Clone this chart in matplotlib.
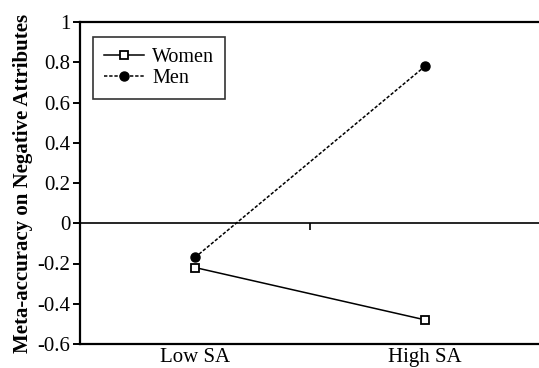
import matplotlib
matplotlib.use("Agg")
import matplotlib.pyplot as plt

# Mean meta-accuracy by self-awareness group
categories = ["Low SA", "High SA"]
women = [-0.22, -0.48]
men = [-0.17, 0.78]
y_ticks = [-0.6, -0.4, -0.2, 0, 0.2, 0.4, 0.6, 0.8, 1]
y_tick_labels = ["-0.6", "-0.4", "-0.2", "0", "0.2", "0.4", "0.6", "0.8", "1"]

plt.rcParams["font.family"] = ["Liberation Serif", "DejaVu Serif"]

fig = plt.figure(figsize=(5.39, 3.68), dpi=100)
ax = fig.add_axes([80 / 539, 24 / 368, 460 / 539, 322 / 368])

x = range(len(categories))
ax.plot(x, women, color="black", linewidth=1.1, linestyle="-",
        marker="s", markersize=6, markerfacecolor="white",
        markeredgecolor="black", markeredgewidth=1.3, label="Women")
ax.plot(x, men, color="black", linewidth=1.1, linestyle=(0, (2.2, 1.2)),
        marker="o", markersize=6.5, markerfacecolor="black",
        markeredgecolor="black", label="Men")

ax.set_xlim(-0.5, 1.5)
ax.set_ylim(-0.6, 1)
ax.set_yticks(y_ticks)
ax.set_yticklabels(y_tick_labels)
ax.set_xticks(list(x))
ax.set_xticklabels(categories)
ax.tick_params(axis="x", length=0, labelsize=15, pad=3)
ax.tick_params(axis="y", direction="out", length=5, width=1.4, labelsize=15, pad=2)

for side in ["left", "top", "bottom"]:
    ax.spines[side].set_linewidth(1.6)
ax.spines["right"].set_visible(False)

# category axis crossing at zero, with a tick between the groups
zero_pos = (0 - (-0.6)) / 1.6
zero_axis = ax.secondary_xaxis(zero_pos)
zero_axis.set_xticks([0.5])
zero_axis.set_xticklabels([])
zero_axis.tick_params(direction="out", length=5, width=1.2)
zero_axis.spines["bottom"].set_linewidth(1.2)

ax.set_ylabel("Meta-accuracy on Negative Attributes", fontsize=15,
              fontweight="bold", labelpad=3)

leg = ax.legend(loc="upper left", bbox_to_anchor=(0.028, 0.953),
                borderaxespad=0, fontsize=14.5, fancybox=False,
                handlelength=2.0, handletextpad=0.4, labelspacing=0.1,
                borderpad=0.55)
leg.get_frame().set_edgecolor("black")
leg.get_frame().set_linewidth(1.2)

fig.savefig("out.png", dpi=100)
